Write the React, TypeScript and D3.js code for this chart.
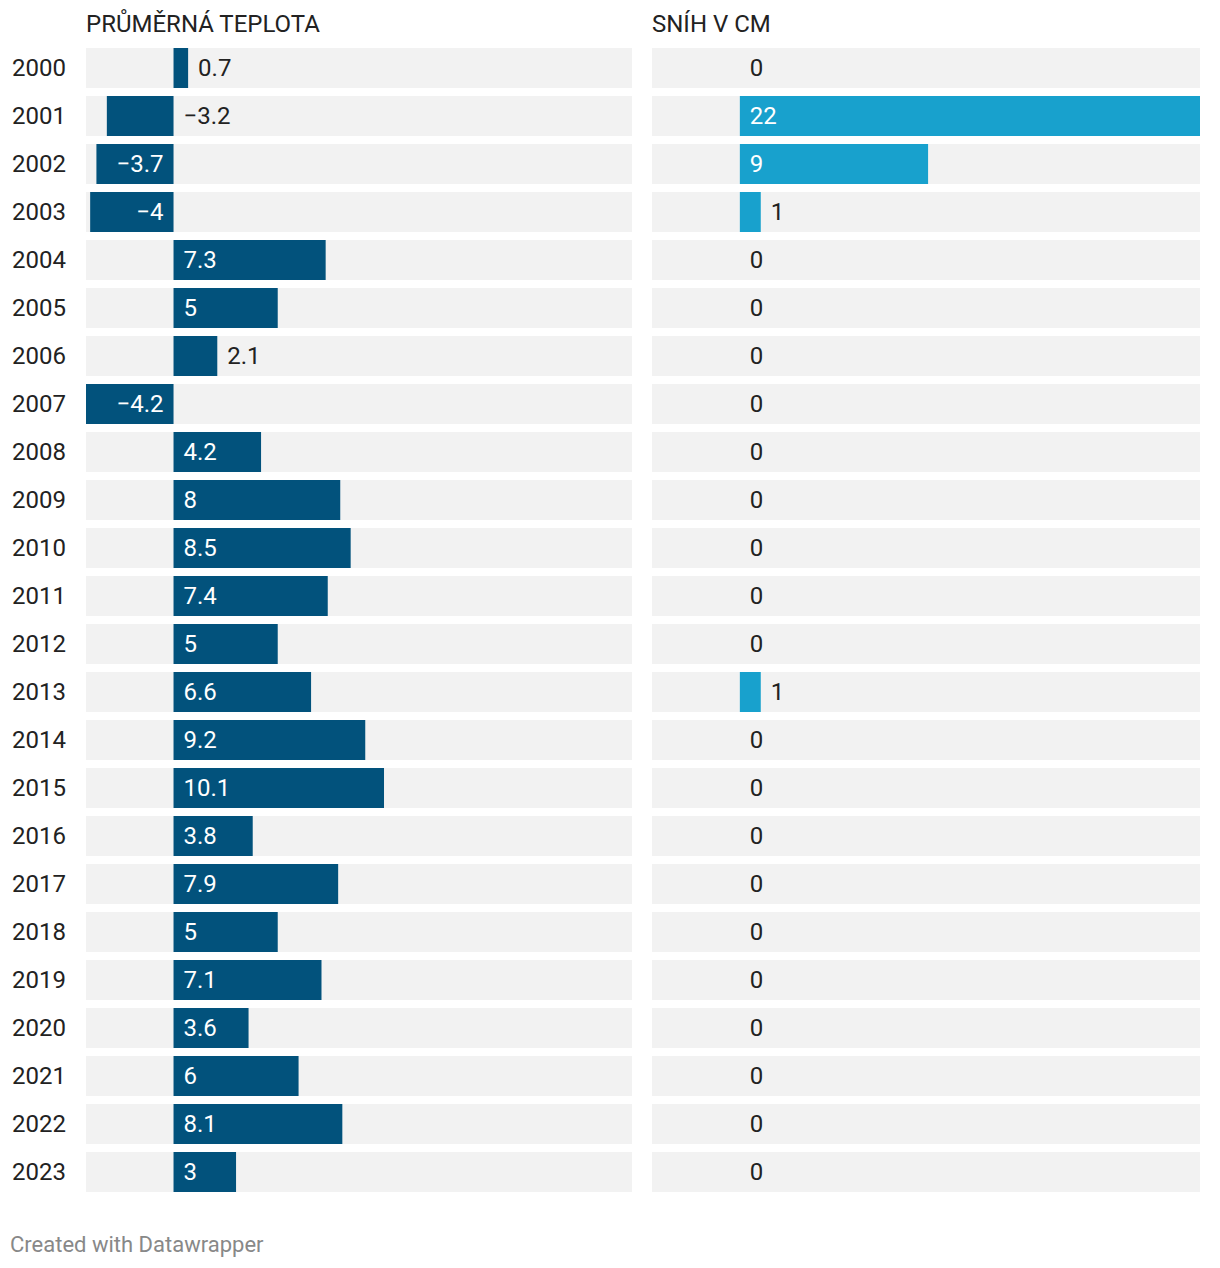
import React from "react";
import * as d3 from "d3";

const years = ["2000","2001","2002","2003","2004","2005","2006","2007","2008","2009","2010","2011","2012","2013","2014","2015","2016","2017","2018","2019","2020","2021","2022","2023"];
const temperature = [0.7,-3.2,-3.7,-4,7.3,5,2.1,-4.2,4.2,8,8.5,7.4,5,6.6,9.2,10.1,3.8,7.9,5,7.1,3.6,6,8.1,3];
const snow = [0,22,9,1,0,0,0,0,0,0,0,0,0,1,0,0,0,0,0,0,0,0,0,0];
const titles = ["PRŮMĚRNÁ TEPLOTA", "SNÍH V CM"];
const footer = "Created with Datawrapper";

const W = 1220, H = 1268;
const FONT = "Roboto, 'Noto Sans', sans-serif";
const fmt = (v: number) => (v < 0 ? "\u2212" : "") + String(Math.abs(v));
const textW = (s: string, size: number) => {
  let w = 0;
  for (const c of s) w += c === "." ? 0.26 : c === "\u2212" ? 0.57 : 0.562;
  return w * size;
};

const yScale = d3.scaleBand<string>().domain(years).range([48, 1192]).paddingInner(8 / 48).paddingOuter(0);

function Panel({ x0, x1, values, color, title }: { x0: number; x1: number; values: number[]; color: string; title: string }) {
  const x = d3.scaleLinear().domain([-4.2, 22]).range([x0, x1]);
  const zero = x(0);
  const fs = 24;
  const bh = yScale.bandwidth();
  return (
    <g>
      <text x={x0} y={24} fontSize={24} fill="#222" dominantBaseline="central">{title}</text>
      {values.map((v, i) => {
        const yy = yScale(years[i])!;
        const bx = Math.min(x(v), zero);
        const bw = Math.abs(x(v) - zero);
        const label = fmt(v);
        const lw = textW(label, fs);
        const inside = v !== 0 && bw > lw + 26;
        let lx: number, anchor: string, fill: string;
        if (v > 0) {
          if (inside) { lx = zero + 10; anchor = "start"; fill = "#fff"; }
          else { lx = x(v) + 10; anchor = "start"; fill = "#222"; }
        } else if (v < 0) {
          if (inside) { lx = zero - 10; anchor = "end"; fill = "#fff"; }
          else { lx = zero + 10; anchor = "start"; fill = "#222"; }
        } else { lx = zero + 10; anchor = "start"; fill = "#222"; }
        return (
          <g key={i}>
            <rect x={x0} y={yy} width={x1 - x0} height={bh} fill="#f2f2f2" />
            {v !== 0 && <rect x={bx} y={yy} width={bw} height={bh} fill={color} />}
            <text x={lx} y={yy + bh / 2} fontSize={fs} fill={fill} textAnchor={anchor as any} dominantBaseline="central">{label}</text>
          </g>
        );
      })}
    </g>
  );
}

export default function App() {
  return (
    <svg width={W} height={H} style={{ display: "block", position: "absolute", left: 0, top: 0, fontFamily: FONT }}>
      <rect width={W} height={H} fill="#fff" />
      {years.map((yr) => (
        <text key={yr} x={12} y={yScale(yr)! + yScale.bandwidth() / 2} fontSize={24} fill="#222" dominantBaseline="central">{yr}</text>
      ))}
      <Panel x0={86} x1={632} values={temperature} color="#02527c" title={titles[0]} />
      <Panel x0={652} x1={1200} values={snow} color="#18a1cd" title={titles[1]} />
      <text x={10} y={1244} fontSize={22} fill="#888" dominantBaseline="central">{footer}</text>
    </svg>
  );
}
